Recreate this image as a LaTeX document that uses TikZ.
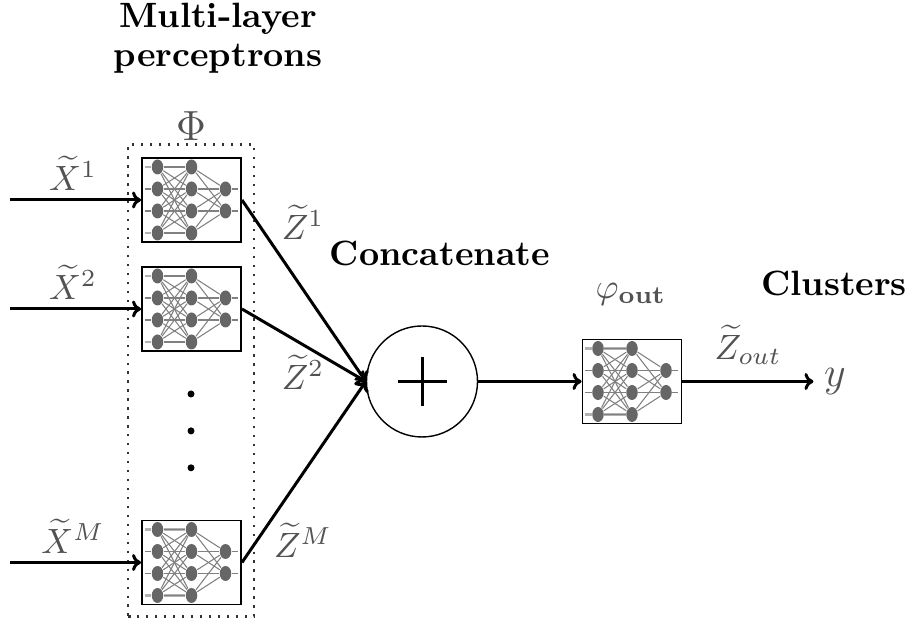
\documentclass[tikz,border=0pt]{standalone}
\usepackage{amsmath}
\usetikzlibrary{arrows.meta, positioning, shapes.geometric, fit}
\colorlet{labelgray}{black!68}
\tikzset{
  netbox/.style={draw,line width=0.55pt,minimum width=0.99cm,minimum height=0.84cm,inner sep=0pt},
  neuron/.style={ellipse,fill=black!60,minimum width=0.115cm,minimum height=0.15cm,inner sep=0pt},
  synapse/.style={black!50,line width=0.3pt},
  widesynapse/.style={black!30,line width=0.6pt},
  mathlabel/.style={text=labelgray,inner sep=0pt},
  title/.style={font=\bfseries,inner sep=0pt,align=center},
  blackdot/.style={fill,circle,inner sep=0pt,minimum size=0.07cm},
  mlp/.pic={
    \node[netbox] (-box) at (0,0) {};
    \foreach \r in {1,2,3,4} {
      \pgfmathsetmacro{\rowy}{0.55-0.22*\r}
      \node[neuron] (-a\r) at (-0.34,\rowy) {};
      \node[neuron] (-b\r) at (0,\rowy) {};
      \coordinate (-in\r) at (-0.47,\rowy);
    }
    \foreach \r in {2,3} {
      \pgfmathsetmacro{\rowy}{0.55-0.22*\r}
      \node[neuron] (-c\r) at (0.34,\rowy) {};
      \coordinate (-out\r) at (0.46,\rowy);
      \draw[synapse] (-c\r) -- (-out\r);
      \draw[synapse] (-in\r) -- (-a\r);
    }
    \foreach \r in {1,4} {
      \draw[widesynapse] (-in\r) -- (-a\r);
      \draw[widesynapse] (-a\r) -- (-b\r);
    }
    \foreach \r in {1,2,3,4} {
      \foreach \s in {1,2,3,4}
        \draw[synapse] (-a\r) -- (-b\s);
      \foreach \s in {2,3}
        \draw[synapse] (-b\r) -- (-c\s);
    }
  }
}
\begin{document}
\begin{tikzpicture}[>={To[length=0.9mm,width=1.7mm]}]
  \useasboundingbox (0,0) rectangle (9.1,6.19);
  % networks
  \pic (phi1) at (1.915,4.19) {mlp};
  \pic (phi2) at (1.915,3.10) {mlp};
  \pic (phiM) at (1.915,0.565) {mlp};
  \pic (out) at (6.32,2.375) {mlp};
  \node[draw=black!80,dash pattern=on 0.65pt off 1.9pt,line width=0.65pt,inner sep=0pt,minimum width=1.255cm,minimum height=4.72cm] (phibox) at (1.91,2.385) {};
  \node[circle,draw,minimum size=1.11cm,inner sep=0pt,line width=0.4pt] (sum) at (4.22,2.375) {};
  \node[blackdot] (dot1) at (1.91,2.25) {};
  \node[blackdot] (dot2) [below=0.285cm of dot1] {};
  \node[blackdot] (dot3) [below=0.285cm of dot2] {};
  % plus sign
  \coordinate (plusW) at (3.975,2.375);
  \coordinate (plusE) at (4.465,2.375);
  \coordinate (plusN) at (4.22,2.62);
  \coordinate (plusS) at (4.22,2.13);
  \draw[line width=0.85pt] (plusW) -- (plusE) (plusN) -- (plusS);
  % free ends
  \coordinate (in1) at (0.1,4.19);
  \coordinate (in2) at (0.1,3.10);
  \coordinate (inM) at (0.1,0.565);
  % outputs
  \node[mathlabel,font=\large,inner sep=0.1cm] (y) at (8.35,2.375) {$y$};
  \path[->,line width=0.85pt]
    (in1) edge (phi1-box.west)
    (in2) edge (phi2-box.west)
    (inM) edge (phiM-box.west)
    (phi1-box.east) edge (sum.west)
    (phi2-box.east) edge (sum.west)
    (phiM-box.east) edge (sum.west)
    (sum.east) edge (out-box.west)
    (out-box.east) edge (y.west);
  % labels
  \node[mathlabel] (x1) at (0.73,4.455) {$\widetilde{X}^1$};
  \node[mathlabel] (x2) at (0.73,3.37) {$\widetilde{X}^2$};
  \node[mathlabel] (xM) at (0.73,0.83) {$\widetilde{X}^M$};
  \node[mathlabel] (z1) at (3.03,3.97) {$\widetilde{Z}^1$};
  \node[mathlabel] (z2) at (3.03,2.47) {$\widetilde{Z}^2$};
  \node[mathlabel] (zM) at (3.03,0.79) {$\widetilde{Z}^M$};
  \node[mathlabel] (zout) at (7.48,2.74) {$\widetilde{Z}_{out}$};
  \node[mathlabel,font=\large] (phi) at (1.91,4.93) {$\Phi$};
  \node[mathlabel] (phiout) at (6.31,3.245) {$\varphi_{\mathbf{out}}$};
  \node[title] (mlptitle) at (2.18,5.81) {Multi-layer\\[-1pt]perceptrons};
  \node[title] (concat) at (4.4,3.66) {Concatenate};
  \node[title] (clusters) at (8.34,3.36) {Clusters};
\end{tikzpicture}
\end{document}
